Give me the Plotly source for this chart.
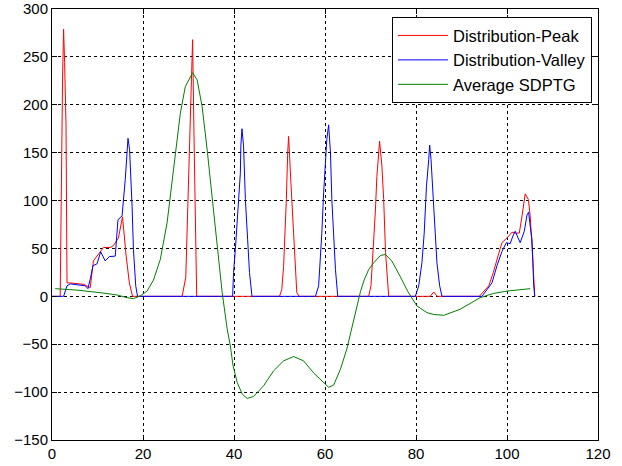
import plotly.graph_objects as go

# ---- data ----
peak_x = [0, 1.8, 2.33, 2.55, 2.77, 3.08, 3.3, 4.0, 7.0, 7.7, 8.4, 9.1, 10.6, 11.3, 12.8, 13.5,
          14.6, 15.5, 16.3, 17.0, 17.7,
          28.6, 29.4, 30.0, 30.5, 30.9, 31.2, 31.5, 31.8,
          50.0, 50.5, 50.9, 51.3, 51.5, 51.8, 52.0, 52.5, 53.1, 53.8, 54.3,
          69.6, 70.1, 70.7, 71.05, 71.4, 72.0, 72.5, 72.9, 73.3, 74.0,
          83.1, 83.9, 84.7,
          93.9, 96.0, 97.0, 98.2, 98.9, 100.0, 101.1, 101.8, 102.7, 103.3, 104.0, 104.7,
          105.1, 105.7, 106.1]
peak_y = [0, 0, 231, 279, 244, 179, 14, 14, 12.5, 11, 9, 37, 47, 51, 51, 53,
          61, 83, 42, 14, 0,
          0, 20, 110, 200, 268, 170, 60, 0,
          0, 7, 31, 68, 101, 150, 167, 119, 67, 4, 0,
          0, 11, 56, 87, 125, 162, 136, 101, 46, 0,
          0, 4.5, 0,
          0, 11, 25, 45, 56, 61, 67, 66, 66, 84, 107, 101,
          84, 35, 0]

valley_x = [0, 2.55, 3.3, 4.0, 7.3, 7.9, 8.5, 9.0, 9.9, 10.7, 11.7, 12.6, 13.9, 14.5, 15.4,
            16.1, 16.7, 17.05, 17.6, 17.9, 18.4, 18.8,
            39.7, 39.9, 40.3, 40.65, 41.0, 41.4, 41.5, 41.75, 42.1, 42.5, 43.0, 43.4, 43.95,
            57.9, 58.6, 59.0, 59.3, 59.7, 60.1, 60.4, 60.8, 61.2, 61.5, 61.9, 62.3, 62.8,
            79.85, 80.6, 81.3, 81.8, 82.3, 82.8, 83.0, 83.3, 83.65, 84.1, 84.6, 85.2, 85.7,
            94.5, 96.7, 97.8, 98.9, 99.85, 100.7, 101.3, 101.8, 102.9, 103.8, 104.4, 104.75,
            105.0, 105.5, 105.7, 105.85, 106.1]
valley_y = [0, 0, 11, 13, 11, 8, 20, 32, 34, 46.5, 37, 41.5, 42, 80, 84,
            122, 165, 153, 94, 49, 11, 0,
            0, 25, 49, 77, 101, 129, 157, 175, 157, 101, 59, 25, 0,
            0, 11, 38.5, 66, 108, 136, 164, 179, 150, 101, 59, 28, 0,
            0, 11, 35, 66, 115, 143, 158, 143, 113, 66, 35, 11, 0,
            0, 14, 32, 47, 56, 55, 63, 68, 56, 68, 85, 88,
            77, 59, 35, 12.5, 0]

sdptg_x = [0.7, 5.5, 10.6, 14.3, 16.5, 17.9, 19.4, 20.9, 22.3, 23.8, 25.3, 26.7, 27.5, 28.2,
           29.3, 30.4, 30.9, 31.9, 33.0, 34.1, 35.2, 36.3, 37.4, 38.5, 39.2, 39.8, 40.7,
           41.8, 42.9, 44.3, 46.5, 48.7, 50.9, 53.1, 55.3, 57.5, 59.0, 60.8, 61.9, 63.4,
           64.8, 66.4, 67.8, 68.6, 69.6, 70.7, 72.2, 73.3, 74.7, 76.5, 78.2, 80.2, 82.4,
           83.9, 86.1, 89.7, 94.1, 97.0, 100.0, 105.1]
sdptg_y = [8, 6.5, 3.8, 1.4, -1.4, -2.4, 0.5, 5.5, 17, 38.5, 77, 129, 163, 191,
           219, 229.5, 233.5, 226, 198, 153, 104.5, 56, 4, -34, -52, -72.6, -90,
           -102, -106.6, -104.5, -93.4, -77.8, -67.4, -62.8, -67.4, -80, -87, -95, -92.7, -76,
           -55, -22, 5, 17, 28, 35, 42.7, 43.7, 36.8, 21, 5, -10, -17,
           -19, -19.8, -13.5, -1.4, 3, 5.5, 8]

x_ticks = [0, 20, 40, 60, 80, 100, 120]
y_ticks = [-150, -100, -50, 0, 50, 100, 150, 200, 250, 300]

FONT = "Liberation Sans, Arial, sans-serif"

fig = go.Figure()
fig.add_trace(go.Scatter(x=peak_x, y=peak_y, mode="lines", name="Distribution-Peak",
                         line=dict(color="#FF0000", width=1)))
fig.add_trace(go.Scatter(x=valley_x, y=valley_y, mode="lines", name="Distribution-Valley",
                         line=dict(color="#0000FF", width=1)))
fig.add_trace(go.Scatter(x=sdptg_x, y=sdptg_y, mode="lines", name="Average SDPTG",
                         line=dict(color="#008000", width=1)))

axis_common = dict(
    showline=True, linecolor="black", linewidth=1, mirror="ticks",
    ticks="inside", ticklen=5, tickcolor="black", tickwidth=1,
    showgrid=True, gridcolor="black", gridwidth=1, griddash="3px,3px",
    zeroline=False, automargin=False,
    tickfont=dict(family=FONT, size=15, color="black"),
)

fig.update_xaxes(range=[0, 120], tickvals=x_ticks, **axis_common)
fig.update_yaxes(range=[-150, 300], tickvals=y_ticks, **axis_common)

fig.update_layout(
    width=622, height=466,
    margin=dict(l=52, r=24, t=9, b=26),
    paper_bgcolor="white", plot_bgcolor="white",
    showlegend=True,
    legend=dict(x=0.989, y=0.981, xanchor="right", yanchor="top",
                bgcolor="white", bordercolor="black", borderwidth=1,
                font=dict(family=FONT, size=16.5, color="black"),
                itemwidth=50, tracegroupgap=0),
)

# remove the browser's default 8px body margin so the figure sits at the page origin
fig.write_html("out.html",
               config={"displayModeBar": False},
               post_script="document.body.style.margin='0';document.body.style.overflow='hidden';")
